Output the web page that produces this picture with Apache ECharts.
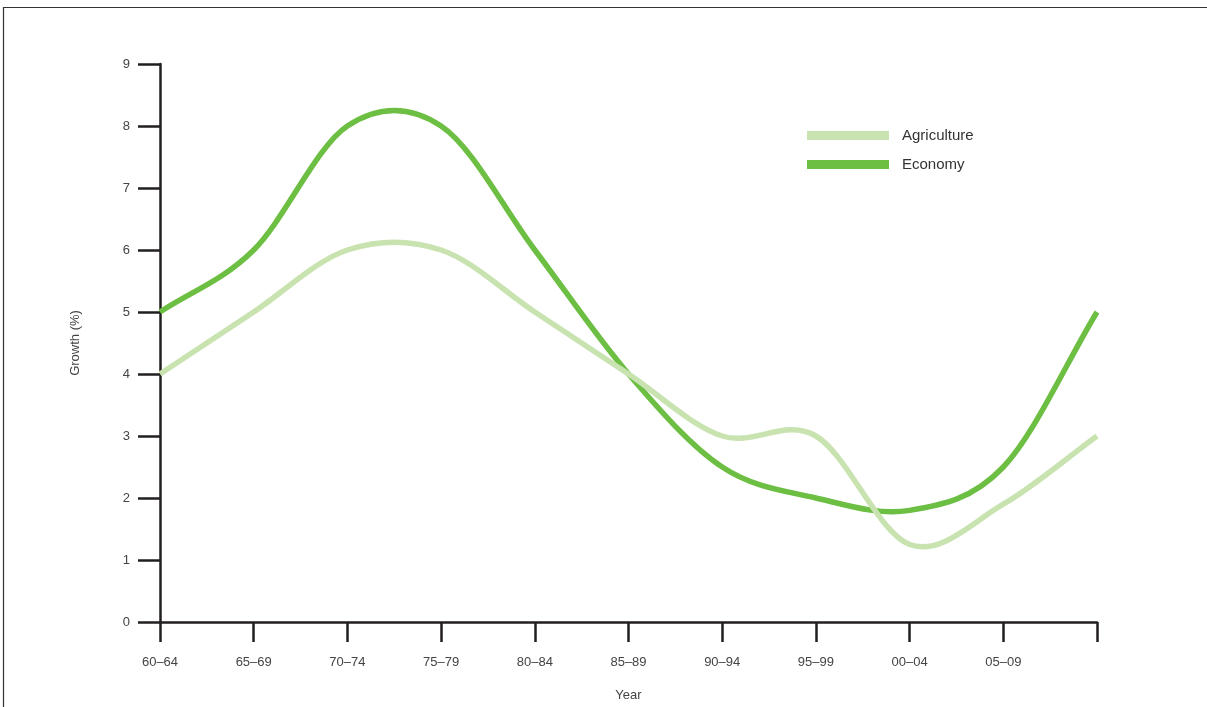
<!DOCTYPE html>
<html>
<head>
<meta charset="utf-8">
<script src="https://cdn.jsdelivr.net/npm/echarts@6/dist/echarts.min.js"></script>
<style>
html,body{margin:0;padding:0;background:#fff;}
#chart{width:1207px;height:707px;}
</style>
</head>
<body>
<div id="chart"></div>
<script>
const categories = ['60–64','65–69','70–74','75–79','80–84','85–89','90–94','95–99','00–04','05–09',''];
const agriculture = [4, 5, 6, 6, 5, 4, 3, 3, 1.25, 1.9, 3];
const economy = [5, 6, 8, 8, 6, 4, 2.5, 2, 1.8, 2.5, 5];
const yTicks = [0,1,2,3,4,5,6,7,8,9];

const font = '"Liberation Sans", Arial, Helvetica, sans-serif';
const axisColor = '#231f20';

// Catmull-Rom spline drawn through the library's own coordinate system
function splineRenderer(values, color, width) {
  return function (params, api) {
    if (params.dataIndex !== 0) return null;
    const p = values.map((v, i) => api.coord([i, v]));
    const n = p.length;
    const get = i => {
      if (i < 0) return [2 * p[0][0] - p[1][0], 2 * p[0][1] - p[1][1]];
      if (i >= n) return [2 * p[n - 1][0] - p[n - 2][0], 2 * p[n - 1][1] - p[n - 2][1]];
      return p[i];
    };
    let d = 'M' + p[0][0] + ' ' + p[0][1];
    for (let i = 0; i < n - 1; i++) {
      const p0 = get(i - 1), p1 = get(i), p2 = get(i + 1), p3 = get(i + 2);
      const c1 = [p1[0] + (p2[0] - p0[0]) / 6, p1[1] + (p2[1] - p0[1]) / 6];
      const c2 = [p2[0] - (p3[0] - p1[0]) / 6, p2[1] - (p3[1] - p1[1]) / 6];
      d += ' C' + c1[0] + ' ' + c1[1] + ' ' + c2[0] + ' ' + c2[1] + ' ' + p2[0] + ' ' + p2[1];
    }
    return {
      type: 'path',
      shape: { pathData: d },
      style: { fill: 'none', stroke: color, lineWidth: width, lineCap: 'butt', lineJoin: 'round' }
    };
  };
}

const chart = echarts.init(document.getElementById('chart'));
chart.setOption({
  backgroundColor: '#fff',
  animation: false,
  textStyle: { fontFamily: font },
  graphic: [{
    type: 'rect',
    shape: { x: 3.5, y: 7.5, width: 1300, height: 800 },
    style: { fill: 'none', stroke: '#333', lineWidth: 1.2 },
    silent: true
  }],
  grid: { left: 160, right: 110, top: 64, bottom: 81 },
  legend: {
    data: ['Agriculture', 'Economy'],
    orient: 'vertical',
    left: 802,
    top: 123,
    itemWidth: 82,
    itemHeight: 9,
    itemGap: 14,
    icon: 'rect',
    textStyle: { fontSize: 15, color: '#333', fontFamily: font, padding: [0,0,0,8] }
  },
  xAxis: {
    type: 'category',
    data: categories,
    boundaryGap: false,
    name: 'Year',
    nameLocation: 'middle',
    nameGap: 67,
    nameTextStyle: { fontSize: 13, color: '#444', fontFamily: font },
    axisLine: { lineStyle: { color: axisColor, width: 2.5 } },
    axisTick: { show: true, length: 20, lineStyle: { color: axisColor, width: 2.5 }, alignWithLabel: true },
    axisLabel: { fontSize: 13, color: '#444', margin: 34, interval: 0, fontFamily: font },
    splitLine: { show: false }
  },
  yAxis: {
    type: 'value',
    min: 0,
    max: 9,
    interval: 1,
    name: 'Growth (%)',
    nameLocation: 'middle',
    nameGap: 78,
    nameRotate: 90,
    nameTextStyle: { fontSize: 13, color: '#444', fontFamily: font },
    axisLine: { show: true, lineStyle: { color: axisColor, width: 2.5 } },
    axisTick: { show: true, length: 22, lineStyle: { color: axisColor, width: 2.5 } },
    axisLabel: { fontSize: 13, color: '#444', margin: 30, fontFamily: font,
      formatter: v => yTicks.includes(v) ? String(v) : '' },
    splitLine: { show: false }
  },
  series: [
    {
      name: 'Economy',
      type: 'custom',
      data: economy.map((v, i) => [i, v]),
      encode: { x: 0, y: 1 },
      renderItem: splineRenderer(economy, '#6cbf42', 5.5),
      itemStyle: { color: '#6cbf42' },
      z: 2
    },
    {
      name: 'Agriculture',
      type: 'custom',
      data: agriculture.map((v, i) => [i, v]),
      encode: { x: 0, y: 1 },
      renderItem: splineRenderer(agriculture, '#c8e3b0', 5.5),
      itemStyle: { color: '#c8e3b0' },
      z: 3
    }
  ]
});
</script>
</body>
</html>
